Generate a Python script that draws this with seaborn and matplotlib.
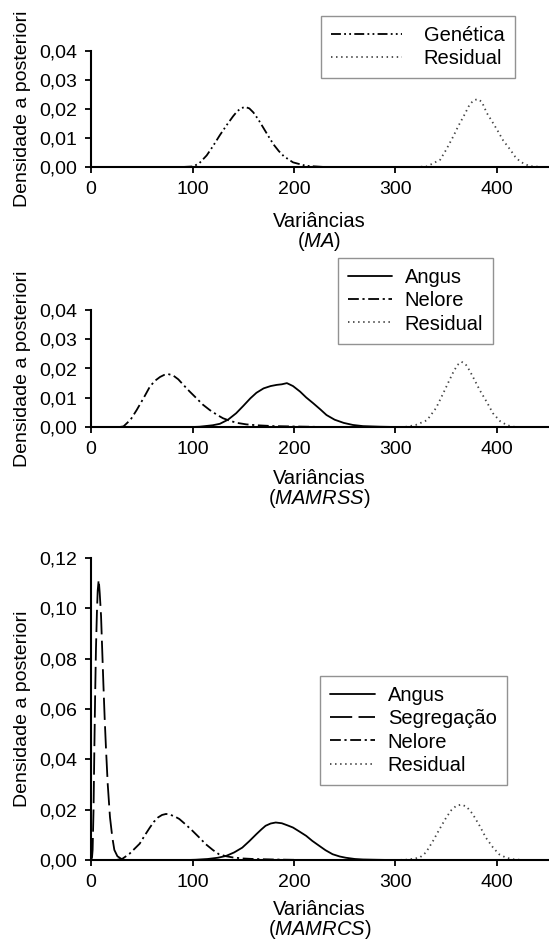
"""Posterior densities of variance components for three models (MA, MAMRSS, MAMRCS)."""
import matplotlib
matplotlib.use("Agg")
import matplotlib.pyplot as plt
from matplotlib.ticker import FuncFormatter, MultipleLocator
import seaborn as sns

# ---- data ----
# Panel 1: MA
ma_gen_x = [90, 101, 107, 114, 120, 127, 134, 140, 144, 148, 152, 156, 160, 165, 170, 175, 180, 185, 190, 199, 212, 230]
ma_gen_y = [0, 0.0002, 0.0014, 0.0040, 0.0071, 0.0110, 0.0146, 0.0175, 0.0192, 0.0203, 0.0207, 0.0202, 0.0188,
            0.0163, 0.0134, 0.0105, 0.0077, 0.0055, 0.0037, 0.0016, 0.0004, 0]
ma_res_x = [320, 331, 344, 350, 357, 362, 367, 373, 377, 381, 385, 390, 395, 400, 406, 413, 418, 423, 432, 445]
ma_res_y = [0, 0.0002, 0.0025, 0.0060, 0.0106, 0.0142, 0.0174, 0.0215, 0.0230, 0.0234, 0.0225, 0.0186, 0.0158,
            0.0129, 0.0092, 0.0060, 0.0035, 0.0018, 0.0003, 0]

# Panel 2: MAMRSS
ss_ang_x = [100, 107, 120, 127, 135, 143, 150, 157, 163, 170, 177, 183, 188, 193, 199, 206, 212, 219, 226, 232,
            240, 249, 258, 268, 285, 300]
ss_ang_y = [0, 0.0001, 0.0006, 0.0011, 0.0025, 0.0047, 0.0072, 0.0098, 0.0117, 0.0132, 0.0140, 0.0144, 0.0146,
            0.0150, 0.0140, 0.0121, 0.0101, 0.0081, 0.0060, 0.0041, 0.0025, 0.0014, 0.0007, 0.0003, 0.0001, 0]
ss_nel_x = [28, 32, 39, 45, 52, 58, 63, 68, 72, 76, 81, 86, 91, 97, 104, 110, 117, 124, 130, 137, 144, 153, 163,
            180, 196, 230]
ss_nel_y = [0, 0.0002, 0.0025, 0.0058, 0.0100, 0.0138, 0.0158, 0.0171, 0.0178, 0.0181, 0.0176, 0.0163, 0.0144,
            0.0122, 0.0098, 0.0077, 0.0058, 0.0042, 0.0030, 0.0021, 0.0014, 0.0009, 0.0006, 0.0003, 0.0002, 0]
ss_res_x = [305, 311, 320, 331, 340, 347, 352, 357, 361, 365, 369, 373, 378, 383, 390, 396, 403, 410, 416, 422]
ss_res_y = [0, 0.0001, 0.0007, 0.0023, 0.0065, 0.0115, 0.0152, 0.0188, 0.0212, 0.0223, 0.0215, 0.0193, 0.0160,
            0.0126, 0.0085, 0.0047, 0.0020, 0.0006, 0.0001, 0]

# Panel 3: MAMRCS
cs_ang_x = [95, 103, 115, 125, 133, 141, 149, 156, 163, 168, 172, 177, 182, 188, 194, 199, 205, 212, 218, 225,
            231, 238, 245, 251, 260, 268, 280, 295]
cs_ang_y = [0, 0.0001, 0.0004, 0.0009, 0.0016, 0.0030, 0.0049, 0.0075, 0.0103, 0.0122, 0.0136, 0.0145, 0.0149,
            0.0146, 0.0137, 0.0129, 0.0114, 0.0096, 0.0076, 0.0056, 0.0039, 0.0023, 0.0014, 0.0009, 0.0004,
            0.0002, 0.0001, 0]
cs_seg_x = [0, 1.0, 1.6, 2.5, 3.3, 4.1, 4.9, 5.8, 6.6, 7.6, 8.6, 9.9, 11, 12.2, 13.5, 14.8, 16.5, 18.7, 21, 23,
            26, 30, 36]
cs_seg_y = [0, 0.001, 0.004, 0.020, 0.044, 0.066, 0.084, 0.098, 0.107, 0.1115, 0.106, 0.097, 0.084, 0.070,
            0.056, 0.044, 0.030, 0.017, 0.009, 0.004, 0.0015, 0.0004, 0]
cs_nel_x = [25, 31, 38, 44, 48, 53, 58, 62, 66, 70, 74, 78, 83, 87, 93, 100, 107, 113, 120, 126, 133, 140, 150,
            160, 180, 210]
cs_nel_y = [0, 0.0005, 0.0025, 0.0049, 0.0065, 0.0098, 0.0129, 0.0152, 0.0169, 0.0179, 0.0183, 0.0180, 0.0172,
            0.0163, 0.0142, 0.0116, 0.0088, 0.0063, 0.0040, 0.0023, 0.0015, 0.0010, 0.0006, 0.0004, 0.0002, 0]
cs_res_x = [300, 310, 318, 324, 330, 337, 343, 350, 355, 360, 365, 370, 376, 383, 389, 396, 402, 409, 416, 425]
cs_res_y = [0, 0.0001, 0.0005, 0.0010, 0.0030, 0.0076, 0.0120, 0.0169, 0.0198, 0.0216, 0.0220, 0.0212, 0.0183,
            0.0135, 0.0089, 0.0050, 0.0023, 0.0009, 0.0003, 0]

model_names = ["MA", "MAMRSS", "MAMRCS"]
y_maxes = [0.04, 0.04, 0.12]
y_steps = [0.01, 0.01, 0.02]

# line styles
LW = 1.3
STYLES = {
    "Angus": dict(linestyle="-", color="black"),
    "Segregação": dict(linestyle=(0, (12.3, 3.5)), color="black"),
    "Nelore": dict(linestyle=(0, (6, 2, 1.2, 2)), color="black"),
    "Genética": dict(linestyle=(0, (5.5, 1.8, 1, 1.8, 1, 1.8)), color="black"),
    "Residual": dict(linestyle=(0, (0.8, 2)), color="#444444"),
}

sns.set_theme(style="ticks")
plt.rcParams["font.family"] = ["Liberation Sans", "DejaVu Sans"]
plt.rcParams["mathtext.fontset"] = "custom"
plt.rcParams["mathtext.rm"] = "Liberation Sans"
plt.rcParams["mathtext.it"] = "Liberation Sans:italic"

W, H = 549, 941
fig = plt.figure(figsize=(W / 100, H / 100), dpi=100)

# axes rectangles in pixels: (top y of ymax, y of zero line)
ax_px = [(51, 167), (310, 427), (558, 860)]
x_left, x_width = 91, 456.75

panels = [
    [("Genética", ma_gen_x, ma_gen_y), ("Residual", ma_res_x, ma_res_y)],
    [("Angus", ss_ang_x, ss_ang_y), ("Nelore", ss_nel_x, ss_nel_y), ("Residual", ss_res_x, ss_res_y)],
    [("Angus", cs_ang_x, cs_ang_y), ("Segregação", cs_seg_x, cs_seg_y),
     ("Nelore", cs_nel_x, cs_nel_y), ("Residual", cs_res_x, cs_res_y)],
]

# legend: (left px, top px, handlelength, handletextpad)
legend_px = [(321, 16, 3.5, 1.1), (338, 258, 2.2, 0.62), (320, 676, 2.25, 0.62)]
xlabel_top = [212, 469, 900]

for i, (curves, name) in enumerate(zip(panels, model_names)):
    top, zero = ax_px[i]
    h = zero - top
    ax = fig.add_axes([x_left / W, 1 - zero / H, x_width / W, h / H])
    for label, xs, ys in curves:
        sns.lineplot(x=xs, y=ys, ax=ax, label=label, linewidth=LW, estimator=None,
                     errorbar=None, sort=False, **STYLES[label])

    ax.set_xlim(0, 450)
    ax.set_ylim(0, y_maxes[i])
    ax.xaxis.set_major_locator(MultipleLocator(100))
    ax.yaxis.set_major_locator(MultipleLocator(y_steps[i]))
    ax.xaxis.set_major_formatter(FuncFormatter(lambda v, p: f"{v:.0f}" if v <= 400 else ""))
    ax.yaxis.set_major_formatter(FuncFormatter(lambda v, p: f"{v:.2f}".replace(".", ",")))
    sns.despine(ax=ax)
    for s in ("left", "bottom"):
        ax.spines[s].set_linewidth(1.5)
        ax.spines[s].set_color("black")
    ax.tick_params(axis="both", direction="out", length=4, width=1.3, colors="black", labelsize=14)
    ax.tick_params(axis="y", pad=6)
    ax.tick_params(axis="x", pad=6)

    ax.set_ylabel("Densidade a posteriori", fontsize=14, color="black")
    ax.yaxis.set_label_coords((31 - x_left) / x_width, 0.5)
    ax.set_xlabel("Variâncias\n($\\it{" + name + "}$)", fontsize=14.5, color="black", linespacing=0.95)
    ax.xaxis.set_label_coords(0.5, -(xlabel_top[i] - zero) / h)

    lx, ly, hl, htp = legend_px[i]
    leg = ax.legend(loc="upper left", bbox_to_anchor=(lx / W, 1 - ly / H), bbox_transform=fig.transFigure,
                    fontsize=14.5, frameon=True, fancybox=False, shadow=False, borderaxespad=0,
                    borderpad=0.5, labelspacing=0.21, handlelength=hl, handletextpad=htp,
                    labelcolor="black")
    leg.get_frame().set_edgecolor("#777777")
    leg.get_frame().set_linewidth(1.0)

fig.savefig("out.png", dpi=100)
